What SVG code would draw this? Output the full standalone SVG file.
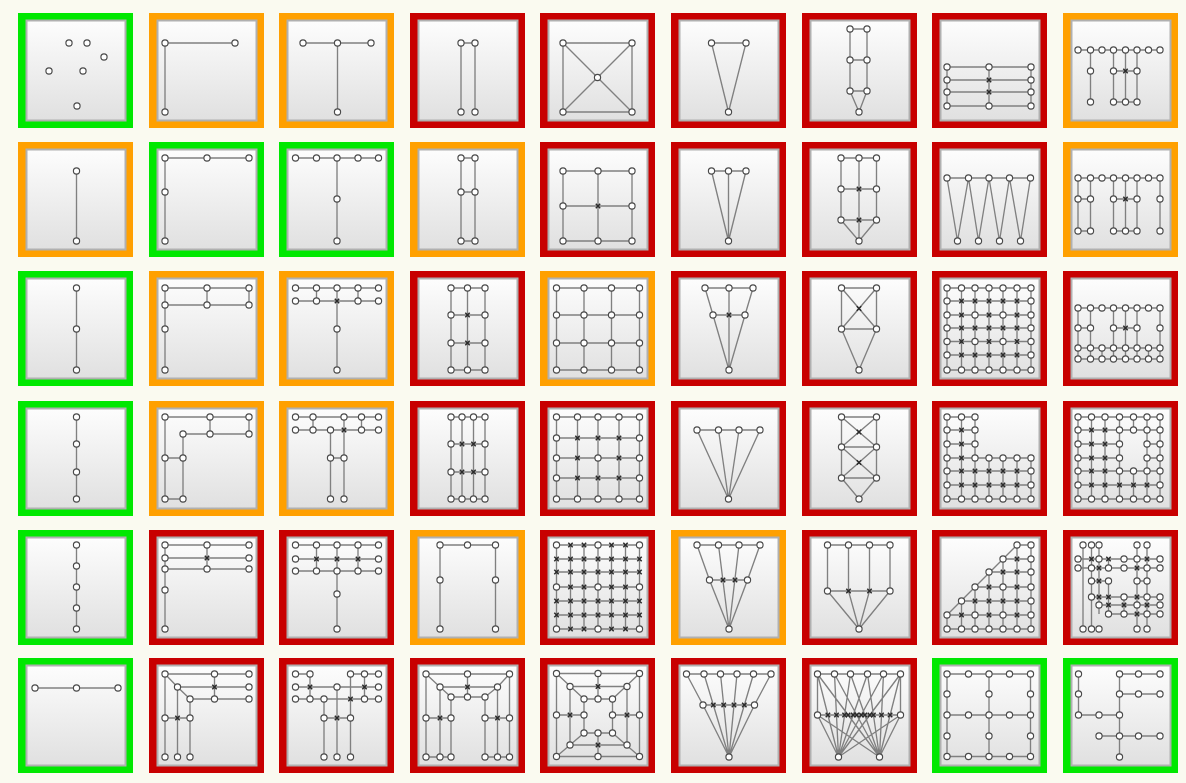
<svg xmlns="http://www.w3.org/2000/svg" xmlns:xlink="http://www.w3.org/1999/xlink" width="1186" height="783" viewBox="0 0 1186 783">
<style>
.G{fill:#00e800}.O{fill:#ffa000}.R{fill:#c80000}
.in{fill:url(#gr);stroke:#b0b0b0;stroke-width:2}
.e{fill:none;stroke:#808080;stroke-width:1.35}
.nd{fill:#fff;stroke:#4a4a4a;stroke-width:1.15}
.cx{fill:none;stroke:#2a2a2a;stroke-width:1.5}
</style>
<defs>
<linearGradient id="gr" x1="0" y1="0" x2="0" y2="1"><stop offset="0" stop-color="#fdfdfd"/><stop offset="1" stop-color="#e0e0e0"/></linearGradient>
<circle id="n" class="nd" r="3.1"/>
<path id="x" class="cx" d="M-2.2-2.2L2.2 2.2M-2.2 2.2L2.2-2.2"/>
<g id="tile"><rect class="in" x="8.5" y="7.5" width="99" height="100"/></g>
</defs>
<rect width="1186" height="783" fill="#fafaf0"/>

<!-- Row 1 -->
<g id="t1" transform="translate(18,13)"><rect class="G" width="115" height="115"/><use href="#tile"/>
<use href="#n" x="51" y="30"/><use href="#n" x="69" y="30"/><use href="#n" x="86" y="44"/><use href="#n" x="31" y="58"/><use href="#n" x="65" y="58"/><use href="#n" x="59" y="93"/></g>

<g id="t2" transform="translate(149,13)"><rect class="O" width="115" height="115"/><use href="#tile"/>
<path class="e" d="M16 30H86M16 30V99"/>
<use href="#n" x="16" y="30"/><use href="#n" x="86" y="30"/><use href="#n" x="16" y="99"/></g>

<g id="t3" transform="translate(279,13)"><rect class="O" width="115" height="115"/><use href="#tile"/>
<path class="e" d="M24 30H92M58.5 30V99"/>
<use href="#n" x="24" y="30"/><use href="#n" x="58.5" y="30"/><use href="#n" x="92" y="30"/><use href="#n" x="58.5" y="99"/></g>

<g id="t4" transform="translate(410,13)"><rect class="R" width="115" height="115"/><use href="#tile"/>
<path class="e" d="M51 30H65M51 30V99M65 30V99"/>
<use href="#n" x="51" y="30"/><use href="#n" x="65" y="30"/><use href="#n" x="51" y="99"/><use href="#n" x="65" y="99"/></g>

<g id="t5" transform="translate(540,13)"><rect class="R" width="115" height="115"/><use href="#tile"/>
<path class="e" d="M23 30H92V99H23ZM23 30L92 99M92 30L23 99"/>
<use href="#n" x="23" y="30"/><use href="#n" x="92" y="30"/><use href="#n" x="23" y="99"/><use href="#n" x="92" y="99"/><use href="#n" x="57.5" y="64.5"/></g>

<g id="t6" transform="translate(671,13)"><rect class="R" width="115" height="115"/><use href="#tile"/>
<path class="e" d="M40.5 30H75L57.5 99Z"/>
<use href="#n" x="40.5" y="30"/><use href="#n" x="75" y="30"/><use href="#n" x="57.5" y="99"/></g>

<g id="t7" transform="translate(802,13)"><rect class="R" width="115" height="115"/><use href="#tile"/>
<path class="e" d="M48 16H65M48 47H65M48 78H65M48 16V78M65 16V78M48 78L57 99L65 78"/>
<use href="#n" x="48" y="16"/><use href="#n" x="65" y="16"/><use href="#n" x="48" y="47"/><use href="#n" x="65" y="47"/><use href="#n" x="48" y="78"/><use href="#n" x="65" y="78"/><use href="#n" x="57" y="99"/></g>

<g id="t8" transform="translate(932,13)"><rect class="R" width="115" height="115"/><use href="#tile"/>
<path class="e" d="M15 54H99M15 67H99M15 79H99M15 93H99M15 54V93M57 54V93M99 54V93"/>
<use href="#n" x="15" y="54"/><use href="#n" x="57" y="54"/><use href="#n" x="99" y="54"/><use href="#n" x="15" y="67"/><use href="#n" x="99" y="67"/><use href="#n" x="15" y="79"/><use href="#n" x="99" y="79"/><use href="#n" x="15" y="93"/><use href="#n" x="57" y="93"/><use href="#n" x="99" y="93"/>
<use href="#x" x="57" y="67"/><use href="#x" x="57" y="79"/></g>

<g id="t9" transform="translate(1063,13)"><rect class="O" width="115" height="115"/><use href="#tile"/>
<path class="e" d="M15 37H97M27.5 37V89M50.5 37V89M62.5 37V89M74 37V89M50.5 58H74M50.5 89H74"/>
<use href="#n" x="15" y="37"/><use href="#n" x="27.5" y="37"/><use href="#n" x="39" y="37"/><use href="#n" x="50.5" y="37"/><use href="#n" x="62.5" y="37"/><use href="#n" x="74" y="37"/><use href="#n" x="85.5" y="37"/><use href="#n" x="97" y="37"/>
<use href="#n" x="27.5" y="58"/><use href="#n" x="50.5" y="58"/><use href="#n" x="74" y="58"/><use href="#x" x="62.5" y="58"/>
<use href="#n" x="27.5" y="89"/><use href="#n" x="50.5" y="89"/><use href="#n" x="62.5" y="89"/><use href="#n" x="74" y="89"/></g>

<!-- Row 2 -->
<g id="t10" transform="translate(18,142)"><rect class="O" width="115" height="115"/><use href="#tile"/>
<path class="e" d="M58.5 29V99"/>
<use href="#n" x="58.5" y="29"/><use href="#n" x="58.5" y="99"/></g>

<g id="t11" transform="translate(149,142)"><rect class="G" width="115" height="115"/><use href="#tile"/>
<path class="e" d="M16 16H100M16 16V99"/>
<use href="#n" x="16" y="16"/><use href="#n" x="58" y="16"/><use href="#n" x="100" y="16"/><use href="#n" x="16" y="50"/><use href="#n" x="16" y="99"/></g>

<g id="t12" transform="translate(279,142)"><rect class="G" width="115" height="115"/><use href="#tile"/>
<path class="e" d="M16.5 16H99.5M58 16V99"/>
<use href="#n" x="16.5" y="16"/><use href="#n" x="37.5" y="16"/><use href="#n" x="58" y="16"/><use href="#n" x="79" y="16"/><use href="#n" x="99.5" y="16"/><use href="#n" x="58" y="57"/><use href="#n" x="58" y="99"/></g>

<g id="t13" transform="translate(410,142)"><rect class="O" width="115" height="115"/><use href="#tile"/>
<path class="e" d="M51 16H65M51 50H65M51 99H65M51 16V99M65 16V99"/>
<use href="#n" x="51" y="16"/><use href="#n" x="65" y="16"/><use href="#n" x="51" y="50"/><use href="#n" x="65" y="50"/><use href="#n" x="51" y="99"/><use href="#n" x="65" y="99"/></g>

<g id="t14" transform="translate(540,142)"><rect class="R" width="115" height="115"/><use href="#tile"/>
<path class="e" d="M23 29H92M23 64H92M23 99H92M23 29V99M58 29V99M92 29V99"/>
<use href="#n" x="23" y="29"/><use href="#n" x="58" y="29"/><use href="#n" x="92" y="29"/><use href="#n" x="23" y="64"/><use href="#n" x="92" y="64"/><use href="#n" x="23" y="99"/><use href="#n" x="58" y="99"/><use href="#n" x="92" y="99"/><use href="#x" x="58" y="64"/></g>

<g id="t15" transform="translate(671,142)"><rect class="R" width="115" height="115"/><use href="#tile"/>
<path class="e" d="M40.5 29H75M40.5 29L57.5 99M57.5 29V99M75 29L57.5 99"/>
<use href="#n" x="40.5" y="29"/><use href="#n" x="57.5" y="29"/><use href="#n" x="75" y="29"/><use href="#n" x="57.5" y="99"/></g>

<g id="t16" transform="translate(802,142)"><rect class="R" width="115" height="115"/><use href="#tile"/>
<path class="e" d="M39 16H74.5M39 47H74.5M39 78H74.5M39 16V78M74.5 16V78M57 16V99M39 78L57 99L74.5 78"/>
<use href="#n" x="39" y="16"/><use href="#n" x="57" y="16"/><use href="#n" x="74.5" y="16"/><use href="#n" x="39" y="47"/><use href="#n" x="74.5" y="47"/><use href="#n" x="39" y="78"/><use href="#n" x="74.5" y="78"/><use href="#n" x="57" y="99"/><use href="#x" x="57" y="47"/><use href="#x" x="57" y="78"/></g>

<g id="t17" transform="translate(932,142)"><rect class="R" width="115" height="115"/><use href="#tile"/>
<path class="e" d="M15 36H98.5M15 36L25.5 99L36.5 36L46.5 99L57 36L67.5 99L77.5 36L88.5 99L98.5 36"/>
<use href="#n" x="15" y="36"/><use href="#n" x="36.5" y="36"/><use href="#n" x="57" y="36"/><use href="#n" x="77.5" y="36"/><use href="#n" x="98.5" y="36"/>
<use href="#n" x="25.5" y="99"/><use href="#n" x="46.5" y="99"/><use href="#n" x="67.5" y="99"/><use href="#n" x="88.5" y="99"/></g>

<g id="t18" transform="translate(1063,142)"><rect class="O" width="115" height="115"/><use href="#tile"/>
<path class="e" d="M15 36H97M15 36V89M27.5 36V89M50.5 36V89M62.5 36V89M74 36V89M97 36V89M15 57H27.5M50.5 57H74M15 89H27.5M50.5 89H74"/>
<use href="#n" x="15" y="36"/><use href="#n" x="27.5" y="36"/><use href="#n" x="39" y="36"/><use href="#n" x="50.5" y="36"/><use href="#n" x="62.5" y="36"/><use href="#n" x="74" y="36"/><use href="#n" x="85.5" y="36"/><use href="#n" x="97" y="36"/>
<use href="#n" x="15" y="57"/><use href="#n" x="27.5" y="57"/><use href="#n" x="50.5" y="57"/><use href="#n" x="74" y="57"/><use href="#n" x="97" y="57"/><use href="#x" x="62.5" y="57"/>
<use href="#n" x="15" y="89"/><use href="#n" x="27.5" y="89"/><use href="#n" x="50.5" y="89"/><use href="#n" x="62.5" y="89"/><use href="#n" x="74" y="89"/><use href="#n" x="97" y="89"/></g>

<!-- Row 3 -->
<g id="t19" transform="translate(18,271)"><rect class="G" width="115" height="115"/><use href="#tile"/>
<path class="e" d="M58.5 17V99"/>
<use href="#n" x="58.5" y="17"/><use href="#n" x="58.5" y="58"/><use href="#n" x="58.5" y="99"/></g>

<g id="t20" transform="translate(149,271)"><rect class="O" width="115" height="115"/><use href="#tile"/>
<path class="e" d="M16 17H100M16 34H100M58 17V34M100 17V34M16 17V99"/>
<use href="#n" x="16" y="17"/><use href="#n" x="58" y="17"/><use href="#n" x="100" y="17"/><use href="#n" x="16" y="34"/><use href="#n" x="58" y="34"/><use href="#n" x="100" y="34"/><use href="#n" x="16" y="58"/><use href="#n" x="16" y="99"/></g>

<g id="t21" transform="translate(279,271)"><rect class="O" width="115" height="115"/><use href="#tile"/>
<path class="e" d="M16.5 17H99.5M16.5 30H99.5M37.5 17V30M79 17V30M58 17V99"/>
<use href="#n" x="16.5" y="17"/><use href="#n" x="37.5" y="17"/><use href="#n" x="58" y="17"/><use href="#n" x="79" y="17"/><use href="#n" x="99.5" y="17"/>
<use href="#n" x="16.5" y="30"/><use href="#n" x="37.5" y="30"/><use href="#x" x="58" y="30"/><use href="#n" x="79" y="30"/><use href="#n" x="99.5" y="30"/>
<use href="#n" x="58" y="58"/><use href="#n" x="58" y="99"/></g>

<g id="t22" transform="translate(410,271)"><rect class="R" width="115" height="115"/><use href="#tile"/>
<path class="e" d="M41 17H75M41 44H75M41 72H75M41 99H75M41 17V99M57.5 17V99M75 17V99"/>
<use href="#n" x="41" y="17"/><use href="#n" x="57.5" y="17"/><use href="#n" x="75" y="17"/>
<use href="#n" x="41" y="44"/><use href="#x" x="57.5" y="44"/><use href="#n" x="75" y="44"/>
<use href="#n" x="41" y="72"/><use href="#x" x="57.5" y="72"/><use href="#n" x="75" y="72"/>
<use href="#n" x="41" y="99"/><use href="#n" x="57.5" y="99"/><use href="#n" x="75" y="99"/></g>

<g id="t23" transform="translate(540,271)"><rect class="O" width="115" height="115"/><use href="#tile"/>
<path class="e" d="M16.5 17H99.5M16.5 44H99.5M16.5 72H99.5M16.5 99H99.5M16.5 17V99M44 17V99M71.5 17V99M99.5 17V99"/>
<use href="#n" x="16.5" y="17"/><use href="#n" x="44" y="17"/><use href="#n" x="71.5" y="17"/><use href="#n" x="99.5" y="17"/>
<use href="#n" x="16.5" y="44"/><use href="#n" x="44" y="44"/><use href="#n" x="71.5" y="44"/><use href="#n" x="99.5" y="44"/>
<use href="#n" x="16.5" y="72"/><use href="#n" x="44" y="72"/><use href="#n" x="71.5" y="72"/><use href="#n" x="99.5" y="72"/>
<use href="#n" x="16.5" y="99"/><use href="#n" x="44" y="99"/><use href="#n" x="71.5" y="99"/><use href="#n" x="99.5" y="99"/></g>

<g id="t24" transform="translate(671,271)"><rect class="R" width="115" height="115"/><use href="#tile"/>
<path class="e" d="M34 17H82M42 44H74M58 17V99M34 17L42 44L58 99M82 17L74 44L58 99"/>
<use href="#n" x="34" y="17"/><use href="#n" x="58" y="17"/><use href="#n" x="82" y="17"/><use href="#n" x="42" y="44"/><use href="#x" x="58" y="44"/><use href="#n" x="74" y="44"/><use href="#n" x="58" y="99"/></g>

<g id="t25" transform="translate(802,271)"><rect class="R" width="115" height="115"/><use href="#tile"/>
<path class="e" d="M39.5 17H74.5V58H39.5ZM39.5 17L74.5 58M74.5 17L39.5 58M39.5 58L57 99L74.5 58"/>
<use href="#n" x="39.5" y="17"/><use href="#n" x="74.5" y="17"/><use href="#x" x="57" y="37.5"/><use href="#n" x="39.5" y="58"/><use href="#n" x="74.5" y="58"/><use href="#n" x="57" y="99"/></g>

<g id="t26" transform="translate(932,271)"><rect class="R" width="115" height="115"/><use href="#tile"/>
<path class="e" d="M15 17H99M15 30H99M15 44H99M15 57H99M15 70.5H99M15 84H99M15 99H99M15 17V99M29.5 17V99M43 17V99M57 17V99M71 17V99M85 17V99M99 17V99"/>
<use href="#n" x="15" y="17"/><use href="#n" x="29.5" y="17"/><use href="#n" x="43" y="17"/><use href="#n" x="57" y="17"/><use href="#n" x="71" y="17"/><use href="#n" x="85" y="17"/><use href="#n" x="99" y="17"/>
<use href="#n" x="15" y="30"/><use href="#x" x="29.5" y="30"/><use href="#x" x="43" y="30"/><use href="#x" x="57" y="30"/><use href="#x" x="71" y="30"/><use href="#x" x="85" y="30"/><use href="#n" x="99" y="30"/>
<use href="#n" x="15" y="44"/><use href="#x" x="29.5" y="44"/><use href="#n" x="43" y="44"/><use href="#x" x="57" y="44"/><use href="#n" x="71" y="44"/><use href="#x" x="85" y="44"/><use href="#n" x="99" y="44"/>
<use href="#n" x="15" y="57"/><use href="#x" x="29.5" y="57"/><use href="#x" x="43" y="57"/><use href="#x" x="57" y="57"/><use href="#x" x="71" y="57"/><use href="#x" x="85" y="57"/><use href="#n" x="99" y="57"/>
<use href="#n" x="15" y="70.5"/><use href="#x" x="29.5" y="70.5"/><use href="#n" x="43" y="70.5"/><use href="#x" x="57" y="70.5"/><use href="#n" x="71" y="70.5"/><use href="#x" x="85" y="70.5"/><use href="#n" x="99" y="70.5"/>
<use href="#n" x="15" y="84"/><use href="#x" x="29.5" y="84"/><use href="#x" x="43" y="84"/><use href="#x" x="57" y="84"/><use href="#x" x="71" y="84"/><use href="#x" x="85" y="84"/><use href="#n" x="99" y="84"/>
<use href="#n" x="15" y="99"/><use href="#n" x="29.5" y="99"/><use href="#n" x="43" y="99"/><use href="#n" x="57" y="99"/><use href="#n" x="71" y="99"/><use href="#n" x="85" y="99"/><use href="#n" x="99" y="99"/></g>

<g id="t27" transform="translate(1063,271)"><rect class="R" width="115" height="115"/><use href="#tile"/>
<path class="e" d="M15 37H97M15 77H97M15 88H97M15 57H27.5M50.5 57H74M15 37V88M27.5 37V88M50.5 37V88M62.5 37V88M74 37V88M97 37V88M39 77V88M85.5 77V88"/>
<use href="#n" x="15" y="37"/><use href="#n" x="27.5" y="37"/><use href="#n" x="39" y="37"/><use href="#n" x="50.5" y="37"/><use href="#n" x="62.5" y="37"/><use href="#n" x="74" y="37"/><use href="#n" x="85.5" y="37"/><use href="#n" x="97" y="37"/>
<use href="#n" x="15" y="57"/><use href="#n" x="27.5" y="57"/><use href="#n" x="50.5" y="57"/><use href="#x" x="62.5" y="57"/><use href="#n" x="74" y="57"/><use href="#n" x="97" y="57"/>
<use href="#n" x="15" y="77"/><use href="#n" x="27.5" y="77"/><use href="#n" x="39" y="77"/><use href="#n" x="50.5" y="77"/><use href="#n" x="62.5" y="77"/><use href="#n" x="74" y="77"/><use href="#n" x="85.5" y="77"/><use href="#n" x="97" y="77"/>
<use href="#n" x="15" y="88"/><use href="#n" x="27.5" y="88"/><use href="#n" x="39" y="88"/><use href="#n" x="50.5" y="88"/><use href="#n" x="62.5" y="88"/><use href="#n" x="74" y="88"/><use href="#n" x="85.5" y="88"/><use href="#n" x="97" y="88"/></g>

<!-- Row 4 -->
<g id="t28" transform="translate(18,401)"><rect class="G" width="115" height="115"/><use href="#tile"/>
<path class="e" d="M58.5 16V98"/>
<use href="#n" x="58.5" y="16"/><use href="#n" x="58.5" y="43"/><use href="#n" x="58.5" y="71"/><use href="#n" x="58.5" y="98"/></g>

<g id="t29" transform="translate(149,401)"><rect class="O" width="115" height="115"/><use href="#tile"/>
<path class="e" d="M16 16H100M34 33H100M61 16V33M100 16V33M16 16V98M34 33V98M16 57H34M16 98H34"/>
<use href="#n" x="16" y="16"/><use href="#n" x="61" y="16"/><use href="#n" x="100" y="16"/><use href="#n" x="34" y="33"/><use href="#n" x="61" y="33"/><use href="#n" x="100" y="33"/><use href="#n" x="16" y="57"/><use href="#n" x="34" y="57"/><use href="#n" x="16" y="98"/><use href="#n" x="34" y="98"/></g>

<g id="t30" transform="translate(279,401)"><rect class="O" width="115" height="115"/><use href="#tile"/>
<path class="e" d="M16.5 16H99.5M16.5 29H99.5M34 16V29M82.5 16V29M65 16V98M51.5 29V98M51.5 57H65"/>
<use href="#n" x="16.5" y="16"/><use href="#n" x="34" y="16"/><use href="#n" x="65" y="16"/><use href="#n" x="82.5" y="16"/><use href="#n" x="99.5" y="16"/>
<use href="#n" x="16.5" y="29"/><use href="#n" x="34" y="29"/><use href="#n" x="51.5" y="29"/><use href="#x" x="65" y="29"/><use href="#n" x="82.5" y="29"/><use href="#n" x="99.5" y="29"/>
<use href="#n" x="51.5" y="57"/><use href="#n" x="65" y="57"/><use href="#n" x="51.5" y="98"/><use href="#n" x="65" y="98"/></g>

<g id="t31" transform="translate(410,401)"><rect class="R" width="115" height="115"/><use href="#tile"/>
<path class="e" d="M41 16H75M41 43H75M41 71H75M41 98H75M41 16V98M52 16V98M63.5 16V98M75 16V98"/>
<use href="#n" x="41" y="16"/><use href="#n" x="52" y="16"/><use href="#n" x="63.5" y="16"/><use href="#n" x="75" y="16"/>
<use href="#n" x="41" y="43"/><use href="#x" x="52" y="43"/><use href="#x" x="63.5" y="43"/><use href="#n" x="75" y="43"/>
<use href="#n" x="41" y="71"/><use href="#x" x="52" y="71"/><use href="#x" x="63.5" y="71"/><use href="#n" x="75" y="71"/>
<use href="#n" x="41" y="98"/><use href="#n" x="52" y="98"/><use href="#n" x="63.5" y="98"/><use href="#n" x="75" y="98"/></g>

<g id="t32" transform="translate(540,401)"><rect class="R" width="115" height="115"/><use href="#tile"/>
<path class="e" d="M16.5 16H99.5M16.5 37H99.5M16.5 57H99.5M16.5 77H99.5M16.5 98H99.5M16.5 16V98M37.5 16V98M58 16V98M79 16V98M99.5 16V98"/>
<use href="#n" x="16.5" y="16"/><use href="#n" x="37.5" y="16"/><use href="#n" x="58" y="16"/><use href="#n" x="79" y="16"/><use href="#n" x="99.5" y="16"/>
<use href="#n" x="16.5" y="37"/><use href="#x" x="37.5" y="37"/><use href="#x" x="58" y="37"/><use href="#x" x="79" y="37"/><use href="#n" x="99.5" y="37"/>
<use href="#n" x="16.5" y="57"/><use href="#x" x="37.5" y="57"/><use href="#n" x="58" y="57"/><use href="#x" x="79" y="57"/><use href="#n" x="99.5" y="57"/>
<use href="#n" x="16.5" y="77"/><use href="#x" x="37.5" y="77"/><use href="#x" x="58" y="77"/><use href="#x" x="79" y="77"/><use href="#n" x="99.5" y="77"/>
<use href="#n" x="16.5" y="98"/><use href="#n" x="37.5" y="98"/><use href="#n" x="58" y="98"/><use href="#n" x="79" y="98"/><use href="#n" x="99.5" y="98"/></g>

<g id="t33" transform="translate(671,401)"><rect class="R" width="115" height="115"/><use href="#tile"/>
<path class="e" d="M26 29H89M26 29L57.5 98M47.5 29L57.5 98M68 29L57.5 98M89 29L57.5 98"/>
<use href="#n" x="26" y="29"/><use href="#n" x="47.5" y="29"/><use href="#n" x="68" y="29"/><use href="#n" x="89" y="29"/><use href="#n" x="57.5" y="98"/></g>

<g id="t34" transform="translate(802,401)"><rect class="R" width="115" height="115"/><use href="#tile"/>
<path class="e" d="M39.5 16H74.5M39.5 46H74.5M39.5 77H74.5M39.5 16V77M74.5 16V77M39.5 16L74.5 46M74.5 16L39.5 46M39.5 46L74.5 77M74.5 46L39.5 77M39.5 77L57 98L74.5 77"/>
<use href="#n" x="39.5" y="16"/><use href="#n" x="74.5" y="16"/><use href="#x" x="57" y="31"/><use href="#n" x="39.5" y="46"/><use href="#n" x="74.5" y="46"/><use href="#x" x="57" y="61.5"/><use href="#n" x="39.5" y="77"/><use href="#n" x="74.5" y="77"/><use href="#n" x="57" y="98"/></g>

<g id="t35" transform="translate(932,401)"><rect class="R" width="115" height="115"/><use href="#tile"/>
<path class="e" d="M15 16H43M15 29H43M15 43H43M15 57H99M15 70H99M15 84H99M15 98H99M15 16V98M29.5 16V98M43 16V98M57 57V98M71 57V98M85 57V98M99 57V98"/>
<use href="#n" x="15" y="16"/><use href="#n" x="29.5" y="16"/><use href="#n" x="43" y="16"/>
<use href="#n" x="15" y="29"/><use href="#x" x="29.5" y="29"/><use href="#n" x="43" y="29"/>
<use href="#n" x="15" y="43"/><use href="#x" x="29.5" y="43"/><use href="#n" x="43" y="43"/>
<use href="#n" x="15" y="57"/><use href="#x" x="29.5" y="57"/><use href="#n" x="43" y="57"/><use href="#n" x="57" y="57"/><use href="#n" x="71" y="57"/><use href="#n" x="85" y="57"/><use href="#n" x="99" y="57"/>
<use href="#n" x="15" y="70"/><use href="#x" x="29.5" y="70"/><use href="#x" x="43" y="70"/><use href="#x" x="57" y="70"/><use href="#x" x="71" y="70"/><use href="#x" x="85" y="70"/><use href="#n" x="99" y="70"/>
<use href="#n" x="15" y="84"/><use href="#x" x="29.5" y="84"/><use href="#x" x="43" y="84"/><use href="#x" x="57" y="84"/><use href="#x" x="71" y="84"/><use href="#x" x="85" y="84"/><use href="#n" x="99" y="84"/>
<use href="#n" x="15" y="98"/><use href="#n" x="29.5" y="98"/><use href="#n" x="43" y="98"/><use href="#n" x="57" y="98"/><use href="#n" x="71" y="98"/><use href="#n" x="85" y="98"/><use href="#n" x="99" y="98"/></g>

<g id="t36" transform="translate(1063,401)"><rect class="R" width="115" height="115"/><use href="#tile"/>
<path class="e" d="M15 16H97M15 29H97M15 43H56.5M84 43H97M15 57H56.5M84 57H97M15 70H97M15 84H97M15 98H97M15 16V98M28.5 16V98M42 16V98M56.5 16V98M70.5 16V29M70.5 70V98M84 16V98M97 16V98"/>
<use href="#n" x="15" y="16"/><use href="#n" x="28.5" y="16"/><use href="#n" x="42" y="16"/><use href="#n" x="56.5" y="16"/><use href="#n" x="70.5" y="16"/><use href="#n" x="84" y="16"/><use href="#n" x="97" y="16"/>
<use href="#n" x="15" y="29"/><use href="#x" x="28.5" y="29"/><use href="#x" x="42" y="29"/><use href="#n" x="56.5" y="29"/><use href="#n" x="70.5" y="29"/><use href="#n" x="84" y="29"/><use href="#n" x="97" y="29"/>
<use href="#n" x="15" y="43"/><use href="#x" x="28.5" y="43"/><use href="#x" x="42" y="43"/><use href="#n" x="56.5" y="43"/><use href="#n" x="84" y="43"/><use href="#n" x="97" y="43"/>
<use href="#n" x="15" y="57"/><use href="#x" x="28.5" y="57"/><use href="#x" x="42" y="57"/><use href="#n" x="56.5" y="57"/><use href="#n" x="84" y="57"/><use href="#n" x="97" y="57"/>
<use href="#n" x="15" y="70"/><use href="#x" x="28.5" y="70"/><use href="#x" x="42" y="70"/><use href="#n" x="56.5" y="70"/><use href="#n" x="70.5" y="70"/><use href="#n" x="84" y="70"/><use href="#n" x="97" y="70"/>
<use href="#n" x="15" y="84"/><use href="#x" x="28.5" y="84"/><use href="#x" x="42" y="84"/><use href="#x" x="56.5" y="84"/><use href="#x" x="70.5" y="84"/><use href="#x" x="84" y="84"/><use href="#n" x="97" y="84"/>
<use href="#n" x="15" y="98"/><use href="#n" x="28.5" y="98"/><use href="#n" x="42" y="98"/><use href="#n" x="56.5" y="98"/><use href="#n" x="70.5" y="98"/><use href="#n" x="84" y="98"/><use href="#n" x="97" y="98"/></g>

<!-- Row 5 -->
<g id="t37" transform="translate(18,530)"><rect class="G" width="115" height="115"/><use href="#tile"/>
<path class="e" d="M58.5 15V99"/>
<use href="#n" x="58.5" y="15"/><use href="#n" x="58.5" y="36"/><use href="#n" x="58.5" y="57"/><use href="#n" x="58.5" y="78"/><use href="#n" x="58.5" y="99"/></g>

<g id="t38" transform="translate(149,530)"><rect class="R" width="115" height="115"/><use href="#tile"/>
<path class="e" d="M16 15H100M16 28H100M16 39H100M58 15V39M16 15V99"/>
<use href="#n" x="16" y="15"/><use href="#n" x="58" y="15"/><use href="#n" x="100" y="15"/><use href="#n" x="16" y="28"/><use href="#x" x="58" y="28"/><use href="#n" x="100" y="28"/><use href="#n" x="16" y="39"/><use href="#n" x="58" y="39"/><use href="#n" x="100" y="39"/><use href="#n" x="16" y="60"/><use href="#n" x="16" y="99"/></g>

<g id="t39" transform="translate(279,530)"><rect class="R" width="115" height="115"/><use href="#tile"/>
<path class="e" d="M16.5 15H99.5M16.5 29H99.5M16.5 41H99.5M37.5 15V41M58 15V99M79 15V41"/>
<use href="#n" x="16.5" y="15"/><use href="#n" x="37.5" y="15"/><use href="#n" x="58" y="15"/><use href="#n" x="79" y="15"/><use href="#n" x="99.5" y="15"/>
<use href="#n" x="16.5" y="29"/><use href="#x" x="37.5" y="29"/><use href="#x" x="58" y="29"/><use href="#x" x="79" y="29"/><use href="#n" x="99.5" y="29"/>
<use href="#n" x="16.5" y="41"/><use href="#n" x="37.5" y="41"/><use href="#n" x="58" y="41"/><use href="#n" x="79" y="41"/><use href="#n" x="99.5" y="41"/>
<use href="#n" x="58" y="64"/><use href="#n" x="58" y="99"/></g>

<g id="t40" transform="translate(410,530)"><rect class="O" width="115" height="115"/><use href="#tile"/>
<path class="e" d="M30 99V15H85.5V99"/>
<use href="#n" x="30" y="15"/><use href="#n" x="57.5" y="15"/><use href="#n" x="85.5" y="15"/><use href="#n" x="30" y="50"/><use href="#n" x="85.5" y="50"/><use href="#n" x="30" y="99"/><use href="#n" x="85.5" y="99"/></g>

<g id="t41" transform="translate(540,530)"><rect class="R" width="115" height="115"/><use href="#tile"/>
<path class="e" d="M16.5 15H99.5M16.5 29H99.5M16.5 42H99.5M16.5 57H99.5M16.5 71H99.5M16.5 85H99.5M16.5 99H99.5M16.5 15V99M30.5 15V99M44 15V99M58 15V99M71.5 15V99M85.5 15V99M99.5 15V99"/>
<use href="#n" x="16.5" y="15"/><use href="#x" x="30.5" y="15"/><use href="#x" x="44" y="15"/><use href="#n" x="58" y="15"/><use href="#x" x="71.5" y="15"/><use href="#x" x="85.5" y="15"/><use href="#n" x="99.5" y="15"/>
<use href="#x" x="16.5" y="29"/><use href="#x" x="30.5" y="29"/><use href="#x" x="44" y="29"/><use href="#x" x="58" y="29"/><use href="#x" x="71.5" y="29"/><use href="#x" x="85.5" y="29"/><use href="#x" x="99.5" y="29"/>
<use href="#x" x="16.5" y="42"/><use href="#x" x="30.5" y="42"/><use href="#x" x="44" y="42"/><use href="#x" x="58" y="42"/><use href="#x" x="71.5" y="42"/><use href="#x" x="85.5" y="42"/><use href="#x" x="99.5" y="42"/>
<use href="#n" x="16.5" y="57"/><use href="#x" x="30.5" y="57"/><use href="#x" x="44" y="57"/><use href="#n" x="58" y="57"/><use href="#x" x="71.5" y="57"/><use href="#x" x="85.5" y="57"/><use href="#n" x="99.5" y="57"/>
<use href="#x" x="16.5" y="71"/><use href="#x" x="30.5" y="71"/><use href="#x" x="44" y="71"/><use href="#x" x="58" y="71"/><use href="#x" x="71.5" y="71"/><use href="#x" x="85.5" y="71"/><use href="#x" x="99.5" y="71"/>
<use href="#x" x="16.5" y="85"/><use href="#x" x="30.5" y="85"/><use href="#x" x="44" y="85"/><use href="#x" x="58" y="85"/><use href="#x" x="71.5" y="85"/><use href="#x" x="85.5" y="85"/><use href="#x" x="99.5" y="85"/>
<use href="#n" x="16.5" y="99"/><use href="#x" x="30.5" y="99"/><use href="#x" x="44" y="99"/><use href="#n" x="58" y="99"/><use href="#x" x="71.5" y="99"/><use href="#x" x="85.5" y="99"/><use href="#n" x="99.5" y="99"/></g>

<g id="t42" transform="translate(671,530)"><rect class="O" width="115" height="115"/><use href="#tile"/>
<path class="e" d="M26 15H89M38.5 50H76.5M26 15L38.5 50L58 99M47.5 15L58 99M68 15L58 99M89 15L76.5 50L58 99"/>
<use href="#n" x="26" y="15"/><use href="#n" x="47.5" y="15"/><use href="#n" x="68" y="15"/><use href="#n" x="89" y="15"/><use href="#n" x="38.5" y="50"/><use href="#x" x="52" y="50"/><use href="#x" x="64" y="50"/><use href="#n" x="76.5" y="50"/><use href="#n" x="58" y="99"/></g>

<g id="t43" transform="translate(802,530)"><rect class="R" width="115" height="115"/><use href="#tile"/>
<path class="e" d="M25.5 15H88M25.5 61H88M25.5 15V61L57 99M46.5 15V61L57 99M67.5 15V61L57 99M88 15V61L57 99"/>
<use href="#n" x="25.5" y="15"/><use href="#n" x="46.5" y="15"/><use href="#n" x="67.5" y="15"/><use href="#n" x="88" y="15"/><use href="#n" x="25.5" y="61"/><use href="#x" x="46.5" y="61"/><use href="#x" x="67.5" y="61"/><use href="#n" x="88" y="61"/><use href="#n" x="57" y="99"/></g>

<g id="t44" transform="translate(932,530)"><rect class="R" width="115" height="115"/><use href="#tile"/>
<path class="e" d="M15 85L85 15M85 15H99M71 29H99M57 42H99M43 57H99M29.5 71H99M15 85H99M15 99H99M15 85V99M29.5 71V99M43 57V99M57 42V99M71 29V99M85 15V99M99 15V99"/>
<use href="#n" x="85" y="15"/><use href="#n" x="99" y="15"/>
<use href="#n" x="71" y="29"/><use href="#x" x="85" y="29"/><use href="#n" x="99" y="29"/>
<use href="#n" x="57" y="42"/><use href="#x" x="71" y="42"/><use href="#x" x="85" y="42"/><use href="#n" x="99" y="42"/>
<use href="#n" x="43" y="57"/><use href="#x" x="57" y="57"/><use href="#n" x="71" y="57"/><use href="#x" x="85" y="57"/><use href="#n" x="99" y="57"/>
<use href="#n" x="29.5" y="71"/><use href="#x" x="43" y="71"/><use href="#x" x="57" y="71"/><use href="#x" x="71" y="71"/><use href="#x" x="85" y="71"/><use href="#n" x="99" y="71"/>
<use href="#n" x="15" y="85"/><use href="#x" x="29.5" y="85"/><use href="#n" x="43" y="85"/><use href="#x" x="57" y="85"/><use href="#n" x="71" y="85"/><use href="#x" x="85" y="85"/><use href="#n" x="99" y="85"/>
<use href="#n" x="15" y="99"/><use href="#n" x="29.5" y="99"/><use href="#n" x="43" y="99"/><use href="#n" x="57" y="99"/><use href="#n" x="71" y="99"/><use href="#n" x="85" y="99"/><use href="#n" x="99" y="99"/></g>

<g id="t45" transform="translate(1063,530)"><rect class="R" width="115" height="115"/><use href="#tile"/>
<path class="e" d="M20 15V99M28.5 15V99M36 15V84M74 15V99M84 15V99M15 29H97M15 38H97M28.5 51H45.5M74 51H84M28.5 67H97M36 75H97M45.5 84H97M45.5 29V38M45.5 51V84M61 67V84"/>
<use href="#n" x="20" y="15"/><use href="#n" x="28.5" y="15"/><use href="#n" x="36" y="15"/><use href="#n" x="74" y="15"/><use href="#n" x="84" y="15"/>
<use href="#n" x="15" y="29"/><use href="#x" x="28.5" y="29"/><use href="#n" x="36" y="29"/><use href="#x" x="45.5" y="29"/><use href="#n" x="61" y="29"/><use href="#n" x="74" y="29"/><use href="#x" x="84" y="29"/><use href="#n" x="97" y="29"/>
<use href="#n" x="15" y="38"/><use href="#n" x="28.5" y="38"/><use href="#x" x="36" y="38"/><use href="#n" x="45.5" y="38"/><use href="#n" x="61" y="38"/><use href="#x" x="74" y="38"/><use href="#n" x="84" y="38"/><use href="#n" x="97" y="38"/>
<use href="#n" x="28.5" y="51"/><use href="#x" x="36" y="51"/><use href="#n" x="45.5" y="51"/><use href="#n" x="74" y="51"/><use href="#n" x="84" y="51"/>
<use href="#n" x="28.5" y="67"/><use href="#x" x="36" y="67"/><use href="#x" x="45.5" y="67"/><use href="#n" x="61" y="67"/><use href="#x" x="74" y="67"/><use href="#n" x="84" y="67"/><use href="#n" x="97" y="67"/>
<use href="#n" x="36" y="75"/><use href="#x" x="45.5" y="75"/><use href="#x" x="61" y="75"/><use href="#n" x="74" y="75"/><use href="#x" x="84" y="75"/><use href="#n" x="97" y="75"/>
<use href="#n" x="45.5" y="84"/><use href="#n" x="61" y="84"/><use href="#x" x="74" y="84"/><use href="#n" x="84" y="84"/><use href="#n" x="97" y="84"/>
<use href="#n" x="20" y="99"/><use href="#n" x="28.5" y="99"/><use href="#n" x="36" y="99"/><use href="#n" x="74" y="99"/><use href="#n" x="84" y="99"/></g>

<!-- Row 6 -->
<g id="t46" transform="translate(18,658)"><rect class="G" width="115" height="115"/><use href="#tile"/>
<path class="e" d="M17 30H100"/>
<use href="#n" x="17" y="30"/><use href="#n" x="58.5" y="30"/><use href="#n" x="100" y="30"/></g>

<g id="t47" transform="translate(149,658)"><rect class="R" width="115" height="115"/><use href="#tile"/>
<path class="e" d="M16 16H100M28.5 29H100M41 41H100M65.5 16V41M16 16L28.5 29L41 41M16 16V99M28.5 29V99M41 41V99M16 60H41"/>
<use href="#n" x="16" y="16"/><use href="#n" x="65.5" y="16"/><use href="#n" x="100" y="16"/>
<use href="#n" x="28.5" y="29"/><use href="#x" x="65.5" y="29"/><use href="#n" x="100" y="29"/>
<use href="#n" x="41" y="41"/><use href="#n" x="65.5" y="41"/><use href="#n" x="100" y="41"/>
<use href="#n" x="16" y="60"/><use href="#x" x="28.5" y="60"/><use href="#n" x="41" y="60"/>
<use href="#n" x="16" y="99"/><use href="#n" x="28.5" y="99"/><use href="#n" x="41" y="99"/></g>

<g id="t48" transform="translate(279,658)"><rect class="R" width="115" height="115"/><use href="#tile"/>
<path class="e" d="M16.5 16H31M71.5 16H99.5M16.5 29H99.5M16.5 41H99.5M31 16V41M85.5 16V41M71.5 16V99M58 29V99M45 41V99M45 60H71.5"/>
<use href="#n" x="16.5" y="16"/><use href="#n" x="31" y="16"/><use href="#n" x="71.5" y="16"/><use href="#n" x="85.5" y="16"/><use href="#n" x="99.5" y="16"/>
<use href="#n" x="16.5" y="29"/><use href="#x" x="31" y="29"/><use href="#n" x="58" y="29"/><use href="#x" x="85.5" y="29"/><use href="#n" x="99.5" y="29"/>
<use href="#n" x="16.5" y="41"/><use href="#n" x="31" y="41"/><use href="#n" x="45" y="41"/><use href="#x" x="71.5" y="41"/><use href="#n" x="85.5" y="41"/><use href="#n" x="99.5" y="41"/>
<use href="#n" x="45" y="60"/><use href="#x" x="58" y="60"/><use href="#n" x="71.5" y="60"/>
<use href="#n" x="45" y="99"/><use href="#n" x="58" y="99"/><use href="#n" x="71.5" y="99"/></g>

<g id="t49" transform="translate(410,658)"><rect class="R" width="115" height="115"/><use href="#tile"/>
<path class="e" d="M16 16H99.5M30 29H87.5M41 39H75M57.5 16V39M16 16L30 29L41 39M99.5 16L87.5 29L75 39M16 16V99M30 29V99M41 39V99M75 39V99M87.5 29V99M99.5 16V99M16 60H41M75 60H99.5M16 99H41M75 99H99.5"/>
<use href="#n" x="16" y="16"/><use href="#n" x="57.5" y="16"/><use href="#n" x="99.5" y="16"/>
<use href="#n" x="30" y="29"/><use href="#x" x="57.5" y="29"/><use href="#n" x="87.5" y="29"/>
<use href="#n" x="41" y="39"/><use href="#n" x="57.5" y="39"/><use href="#n" x="75" y="39"/>
<use href="#n" x="16" y="60"/><use href="#x" x="30" y="60"/><use href="#n" x="41" y="60"/><use href="#n" x="75" y="60"/><use href="#x" x="87.5" y="60"/><use href="#n" x="99.5" y="60"/>
<use href="#n" x="16" y="99"/><use href="#n" x="30" y="99"/><use href="#n" x="41" y="99"/><use href="#n" x="75" y="99"/><use href="#n" x="87.5" y="99"/><use href="#n" x="99.5" y="99"/></g>

<g id="t50" transform="translate(540,658)"><rect class="R" width="115" height="115"/><use href="#tile"/>
<path class="e" d="M16.5 15.5H99.5V98.5H16.5ZM30 28.5H87V87H30ZM44 41H72.5V75H44ZM16.5 15.5L44 41M99.5 15.5L72.5 41M16.5 98.5L44 75M99.5 98.5L72.5 75M58 15.5V41M58 75V98.5M16.5 57H44M72.5 57H99.5"/>
<use href="#n" x="16.5" y="15.5"/><use href="#n" x="58" y="15.5"/><use href="#n" x="99.5" y="15.5"/>
<use href="#n" x="30" y="28.5"/><use href="#x" x="58" y="28.5"/><use href="#n" x="87" y="28.5"/>
<use href="#n" x="44" y="41"/><use href="#n" x="58" y="41"/><use href="#n" x="72.5" y="41"/>
<use href="#n" x="16.5" y="57"/><use href="#x" x="30" y="57"/><use href="#n" x="44" y="57"/><use href="#n" x="72.5" y="57"/><use href="#x" x="87" y="57"/><use href="#n" x="99.5" y="57"/>
<use href="#n" x="44" y="75"/><use href="#n" x="58" y="75"/><use href="#n" x="72.5" y="75"/>
<use href="#n" x="30" y="87"/><use href="#x" x="58" y="87"/><use href="#n" x="87" y="87"/>
<use href="#n" x="16.5" y="98.5"/><use href="#n" x="58" y="98.5"/><use href="#n" x="99.5" y="98.5"/></g>

<g id="t51" transform="translate(671,658)"><rect class="R" width="115" height="115"/><use href="#tile"/>
<path class="e" d="M15.5 16H100M32 47H83.5M15.5 16L32 47L58 99M33 16L58 99M49.5 16L58 99M66 16L58 99M82.5 16L58 99M100 16L83.5 47L58 99"/>
<use href="#n" x="15.5" y="16"/><use href="#n" x="33" y="16"/><use href="#n" x="49.5" y="16"/><use href="#n" x="66" y="16"/><use href="#n" x="82.5" y="16"/><use href="#n" x="100" y="16"/>
<use href="#n" x="32" y="47"/><use href="#x" x="42.3" y="47"/><use href="#x" x="52.7" y="47"/><use href="#x" x="63" y="47"/><use href="#x" x="73.3" y="47"/><use href="#n" x="83.5" y="47"/>
<use href="#n" x="58" y="99"/></g>

<g id="t52" transform="translate(802,658)"><rect class="R" width="115" height="115"/><use href="#tile"/>
<path class="e" d="M15.5 16H98.5M15.5 57H98.5M15.5 16V57M98.5 16V57M15.5 57L36.5 99M15.5 57L77.5 99M98.5 57L36.5 99M98.5 57L77.5 99M15.5 16L36.5 99M15.5 16L77.5 99M32.5 16L36.5 99M32.5 16L77.5 99M48.5 16L36.5 99M48.5 16L77.5 99M65.5 16L36.5 99M65.5 16L77.5 99M81.5 16L36.5 99M81.5 16L77.5 99M98.5 16L36.5 99M98.5 16L77.5 99"/>
<use href="#n" x="15.5" y="16"/><use href="#n" x="32.5" y="16"/><use href="#n" x="48.5" y="16"/><use href="#n" x="65.5" y="16"/><use href="#n" x="81.5" y="16"/><use href="#n" x="98.5" y="16"/>
<use href="#n" x="15.5" y="57"/><use href="#x" x="25.9" y="57"/><use href="#x" x="34.5" y="57"/><use href="#x" x="42.6" y="57"/><use href="#x" x="46.1" y="57"/><use href="#x" x="51.2" y="57"/><use href="#x" x="54.7" y="57"/><use href="#x" x="59.3" y="57"/><use href="#x" x="62.8" y="57"/><use href="#x" x="67.9" y="57"/><use href="#x" x="71.4" y="57"/><use href="#x" x="79.5" y="57"/><use href="#x" x="88.1" y="57"/><use href="#n" x="98.5" y="57"/>
<use href="#n" x="36.5" y="99"/><use href="#n" x="77.5" y="99"/></g>

<g id="t53" transform="translate(932,658)"><rect class="G" width="115" height="115"/><use href="#tile"/>
<path class="e" d="M15 16H98.5V98.5H15ZM57 16V98.5M15 57H98.5"/>
<use href="#n" x="15" y="16"/><use href="#n" x="36.5" y="16"/><use href="#n" x="57" y="16"/><use href="#n" x="77.5" y="16"/><use href="#n" x="98.5" y="16"/>
<use href="#n" x="15" y="36"/><use href="#n" x="57" y="36"/><use href="#n" x="98.5" y="36"/>
<use href="#n" x="15" y="57"/><use href="#n" x="36.5" y="57"/><use href="#n" x="57" y="57"/><use href="#n" x="77.5" y="57"/><use href="#n" x="98.5" y="57"/>
<use href="#n" x="15" y="78"/><use href="#n" x="57" y="78"/><use href="#n" x="98.5" y="78"/>
<use href="#n" x="15" y="98.5"/><use href="#n" x="36.5" y="98.5"/><use href="#n" x="57" y="98.5"/><use href="#n" x="77.5" y="98.5"/><use href="#n" x="98.5" y="98.5"/></g>

<g id="t54" transform="translate(1063,658)"><rect class="G" width="115" height="115"/><use href="#tile"/>
<path class="e" d="M15.5 16V57H56.5M56.5 16V99M56.5 16H97M56.5 36H97M36 78H97"/>
<use href="#n" x="15.5" y="16"/><use href="#n" x="56.5" y="16"/><use href="#n" x="75.5" y="16"/><use href="#n" x="97" y="16"/>
<use href="#n" x="15.5" y="36"/><use href="#n" x="56.5" y="36"/><use href="#n" x="75.5" y="36"/><use href="#n" x="97" y="36"/>
<use href="#n" x="15.5" y="57"/><use href="#n" x="36" y="57"/><use href="#n" x="56.5" y="57"/>
<use href="#n" x="36" y="78"/><use href="#n" x="56.5" y="78"/><use href="#n" x="75.5" y="78"/><use href="#n" x="97" y="78"/>
<use href="#n" x="56.5" y="99"/></g>
</svg>
